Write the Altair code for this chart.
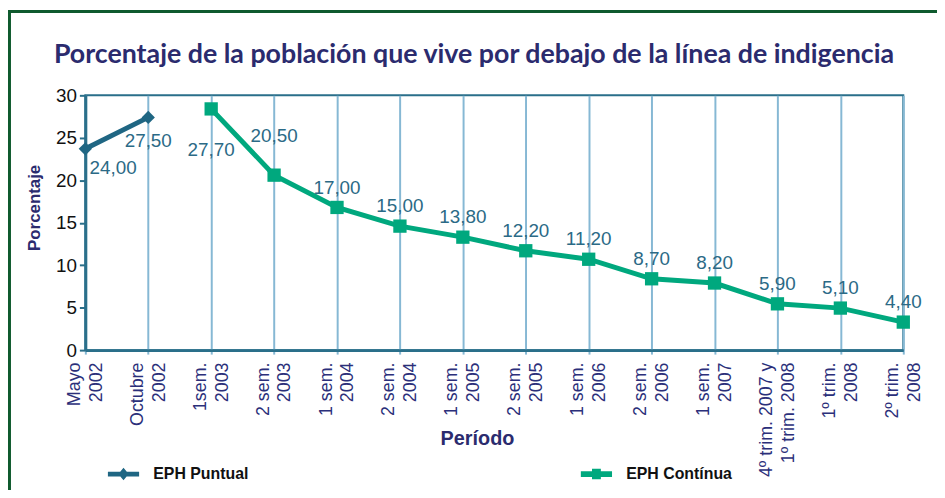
import altair as alt
import pandas as pd

# ---- data ----
periods = ["Mayo|2002", "Octubre|2002", "1sem.|2003", "2 sem.|2003", "1 sem.|2004",
           "2 sem.|2004", "1 sem.|2005", "2 sem.|2005", "1 sem.|2006", "2 sem.|2006",
           "1 sem.|2007", "4º trim. 2007 y|1º trim. 2008", "1º trim.|2008", "2º trim.|2008"]
series = ["EPH Puntual"] * 2 + ["EPH Contínua"] * 12
values = [23.7, 27.4, 28.4, 20.6, 16.8, 14.6, 13.3, 11.7, 10.7, 8.4, 7.9, 5.45, 4.95, 3.3]
labels = ["24,00", "27,50", "27,70", "20,50", "17,00", "15,00", "13,80", "12,20",
          "11,20", "8,70", "8,20", "5,90", "5,10", "4,40"]
series_names = ["EPH Puntual", "EPH Contínua"]
y_ticks = [0, 5, 10, 15, 20, 25, 30]
title_text = "Porcentaje de la población que vive por debajo de la línea de indigencia"

df = pd.DataFrame({"period": periods, "series": series, "value": values,
                   "label": labels, "idx": list(range(len(periods)))})

NAVY = "#2b2b6e"
TEAL = "#2a6f8a"
GRID = "#86b8d4"
LABEL = "#2b6a86"
COLORS = ["#1f6683", "#00a87e"]
FONT = "Liberation Sans"

color_scale = alt.Scale(domain=series_names, range=COLORS)

x = alt.X("period:N", sort=periods, scale=alt.Scale(type="point", padding=0),
          title="Período",
          axis=alt.Axis(labelExpr="split(datum.label, '|')", labelAngle=270,
                        labelAlign="right", labelBaseline="middle", labelFont=FONT,
                        labelFontSize=18, labelColor="#2b2f7a", labelLineHeight=22,
                        labelPadding=8, labelOffset=-11, labelOverlap=False, labelFlush=False,
                        tickColor=GRID, tickSize=4, tickWidth=2,
                        grid=True, gridColor=GRID, gridWidth=2,
                        domainColor=TEAL, domainWidth=3,
                        titleFont=FONT, titleFontSize=20, titleFontWeight="bold",
                        titleColor=NAVY, titleX=395, titleY=89, titleBaseline="middle"))
y = alt.Y("value:Q", scale=alt.Scale(domain=[0, 30], nice=False), title="Porcentaje",
          axis=alt.Axis(values=y_ticks, grid=False, domainColor=TEAL, domainWidth=3,
                        tickColor=TEAL, tickWidth=2, tickSize=6, labelFont=FONT,
                        labelFontSize=19, labelColor="#111111", labelPadding=3,
                        titleFont=FONT, titleFontSize=17, titleFontWeight="bold",
                        titleColor=NAVY, titleX=-51, titleY=113, titleBaseline="middle"))

base = alt.Chart(df)

border = alt.Chart(pd.DataFrame({"d": [0]})).mark_rect(
    fillOpacity=0, stroke="#0f5a2e", strokeWidth=3
).encode(x=alt.value(-76.5), x2=alt.value(990), y=alt.value(-84.5), y2=alt.value(520))

title = alt.Chart(pd.DataFrame({"t": [title_text]})).mark_text(
    font="Lato", fontSize=27, fontWeight="bold", color=NAVY, align="center",
    baseline="alphabetic"
).encode(x=alt.value(392), y=alt.value(-33), text="t:N")

line = base.mark_line(strokeWidth=5).encode(
    x=x, y=y, color=alt.Color("series:N", scale=color_scale, legend=None))

points = base.mark_point(filled=True, opacity=1, size=180).encode(
    x=x, y=y,
    color=alt.Color("series:N", scale=color_scale, legend=None),
    shape=alt.Shape("series:N", scale=alt.Scale(domain=series_names, range=["diamond", "square"]),
                    legend=None))

path_p = "M-3,-0.45H3V0.45H-3Z M0,-1.2L1,0L0,1.2L-1,0Z"
path_c = "M-3,-0.55H3V0.55H-3Z M-0.85,-1H0.85V1H-0.85Z"
leg = dict(orient="none", legendX=30.5, legendY=374, direction="horizontal", title=None,
           symbolSize=110, labelOffset=22, columnPadding=334, labelFont=FONT,
           labelFontWeight="bold", labelFontSize=16, labelColor="#111111",
           symbolStrokeWidth=0)
legend_layer = base.transform_filter("false").mark_point(filled=True, opacity=1, size=110).encode(
    x=x, y=y,
    color=alt.Color("series:N", scale=color_scale, legend=alt.Legend(**leg)),
    shape=alt.Shape("series:N", scale=alt.Scale(domain=series_names, range=[path_p, path_c]),
                    legend=alt.Legend(**leg)))

txt = dict(font=FONT, fontSize=19, color=LABEL, align="center", baseline="middle")
t_main = base.transform_filter("datum.idx >= 4").mark_text(dy=-20, **txt).encode(x=x, y=y, text="label:N")
t0 = base.transform_filter("datum.idx == 0").mark_text(dx=28, dy=19, **txt).encode(x=x, y=y, text="label:N")
t1 = base.transform_filter("datum.idx == 1").mark_text(dy=24, **txt).encode(x=x, y=y, text="label:N")
t2 = base.transform_filter("datum.idx == 2").mark_text(dy=41, **txt).encode(x=x, y=y, text="label:N")
t3 = base.transform_filter("datum.idx == 3").mark_text(dy=-39, **txt).encode(x=x, y=y, text="label:N")

chart = alt.layer(border, title, line, points, legend_layer, t_main, t0, t1, t2, t3).resolve_scale(
    color="independent", shape="independent"
).properties(
    width=825, height=257,
    padding={"left": 78, "top": 86, "right": 34, "bottom": 139},
    autosize=alt.AutoSizeParams(type="none"),
).configure_view(stroke=TEAL, strokeWidth=2)

chart.save("out.html", embed_options={"renderer": "svg", "actions": False})
